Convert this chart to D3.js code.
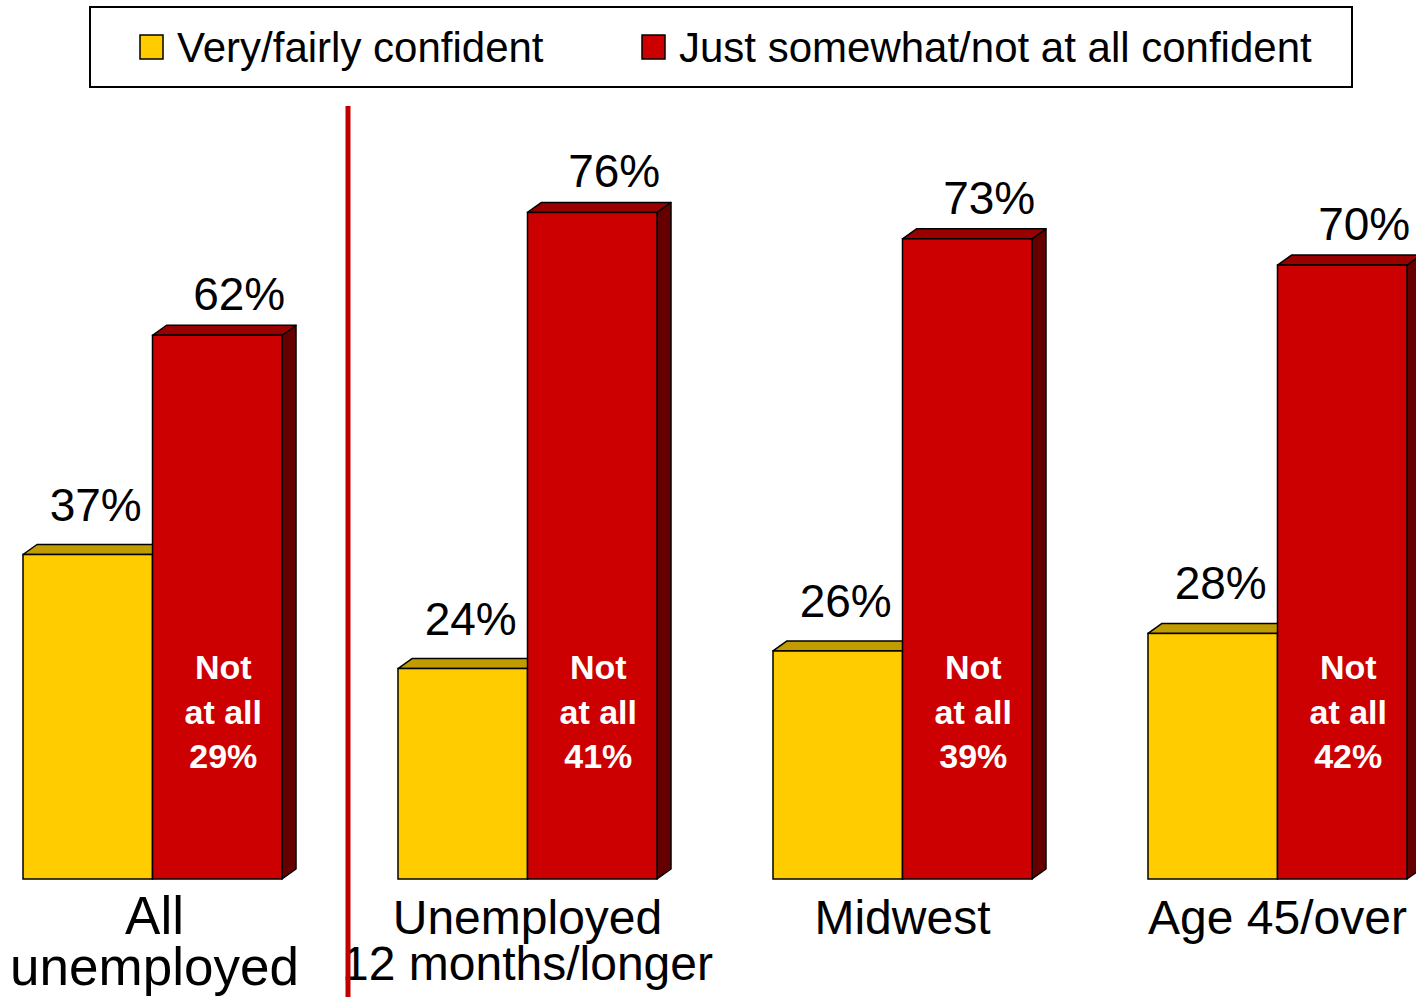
<!DOCTYPE html>
<html><head><meta charset="utf-8">
<script src="https://cdn.jsdelivr.net/npm/d3@7"></script>
<style>body{margin:0;background:#fff}svg{display:block}text{font-family:"Liberation Sans",Arial,sans-serif}</style>
</head><body>
<svg id="c" width="1416" height="997"></svg>
<script>
const categories = [["All","unemployed"],["Unemployed","12 months/longer"],["Midwest"],["Age 45/over"]];
const seriesNames = ["Very/fairly confident","Just somewhat/not at all confident"];
const confident = [37,24,26,28];
const notConfident = [62,76,73,70];
const notAtAll = [29,41,39,42];

const colors = {front:["#FFCC00","#CC0000"], top:["#C09C00","#990000"], side:["#997A00","#660000"]};
const svg = d3.select("#c");
const W = 1416, H = 997;
const depthX = 14, depthY = 10;

const x = d3.scaleBand().domain(d3.range(categories.length)).range([23,1407]).paddingInner(0.3093).paddingOuter(0);
const xs = d3.scaleBand().domain([0,1]).range([0,x.bandwidth()]);
const y = d3.scaleLinear().domain([0,100]).range([879,2]);

const data = [];
categories.forEach((c,i)=>{
  data.push({i,s:0,v:confident[i]});
  data.push({i,s:1,v:notConfident[i]});
});

const g = svg.append("g");
data.forEach(d=>{
  const x0 = x(d.i)+xs(d.s), x1 = x0+xs.bandwidth(), yt = y(d.v), yb = y(0);
  const bg = g.append("g");
  bg.append("path").attr("d",`M${x1},${yb}L${x1+depthX},${yb-depthY}L${x1+depthX},${yt-depthY}L${x1},${yt}Z`)
    .attr("fill",colors.side[d.s]).attr("stroke","#000").attr("stroke-width",1.5).attr("stroke-linejoin","round");
  bg.append("path").attr("d",`M${x0},${yt}L${x0+depthX},${yt-depthY}L${x1+depthX},${yt-depthY}L${x1},${yt}Z`)
    .attr("fill",colors.top[d.s]).attr("stroke","#000").attr("stroke-width",1.5).attr("stroke-linejoin","round");
  bg.append("rect").attr("x",x0).attr("y",yt).attr("width",x1-x0).attr("height",yb-yt)
    .attr("fill",colors.front[d.s]).attr("stroke","#000").attr("stroke-width",1.5);
});

// value labels
data.forEach(d=>{
  const cx = x(d.i)+xs(d.s)+xs.bandwidth()/2 + (d.s===0?8:22);
  svg.append("text").attr("x",cx).attr("y",y(d.v)-(d.s===0?34:25)).attr("text-anchor","middle")
    .attr("font-size",46).attr("fill","#000").text(d.v+"%");
});

// not at all labels
notAtAll.forEach((v,i)=>{
  const cx = x(i)+xs(1)+xs.bandwidth()/2+6;
  const lines = ["Not","at all",v+"%"];
  lines.forEach((t,k)=>{
    svg.append("text").attr("x",cx).attr("y",679+k*44.5).attr("text-anchor","middle")
      .attr("font-size",34).attr("font-weight","bold").attr("fill","#fff").text(t);
  });
});

// category labels
categories.forEach((c,i)=>{
  const cx = x(i)+x.bandwidth()/2 + (i===0?2:0);
  const fs = i===0?53:48;
  c.forEach((t,k)=>{
    svg.append("text").attr("x",cx).attr("y",934+k*(i===0?51:46)).attr("text-anchor","middle")
      .attr("font-size",fs).attr("fill","#000").text(t);
  });
});

// divider line
svg.append("line").attr("x1",348).attr("x2",348).attr("y1",106).attr("y2",H)
  .attr("stroke","#C00000").attr("stroke-width",5);

// legend
const lg = svg.append("g");
lg.append("rect").attr("x",90).attr("y",7).attr("width",1262).attr("height",80)
  .attr("fill","#fff").attr("stroke","#000").attr("stroke-width",2);
const legX = [140,642];
seriesNames.forEach((n,k)=>{
  lg.append("rect").attr("x",legX[k]).attr("y",35).attr("width",23).attr("height",24)
    .attr("fill",colors.front[k]).attr("stroke","#000").attr("stroke-width",1.5);
  lg.append("text").attr("x",legX[k]+37).attr("y",62).attr("font-size",42).attr("fill","#000").text(n);
});
</script>
</body></html>
